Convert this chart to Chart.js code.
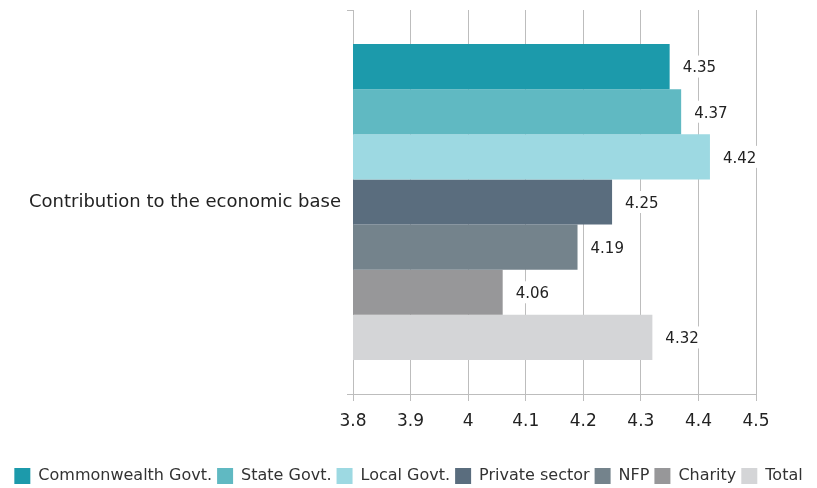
<!DOCTYPE html>
<html>
<head>
<meta charset="utf-8">
<script src="https://cdn.jsdelivr.net/npm/chart.js@4/dist/chart.umd.min.js"></script>
<style>
	html, body { margin: 0; padding: 0; background: #fff; }
	#wrap { width: 817px; height: 488px; }
</style>
</head>
<body>
<div id="wrap"><canvas id="chart" width="817" height="488"></canvas></div>
<script>
// categories and series
var categories = ['Contribution to the economic base'];
var seriesNames = ['Commonwealth Govt.', 'State Govt.', 'Local Govt.', 'Private sector', 'NFP', 'Charity', 'Total'];
var seriesValues = [4.35, 4.37, 4.42, 4.25, 4.19, 4.06, 4.32];
var seriesColors = ['#1c9aab', '#60b9c2', '#9dd9e2', '#5a6d7e', '#74838c', '#979799', '#d4d5d7'];
var xTicks = [3.8, 3.9, 4, 4.1, 4.2, 4.3, 4.4, 4.5];

var fontName = "'DejaVu Sans', sans-serif";

var datasets = seriesNames.map(function (name, i) {
	return {
		label: name,
		data: [seriesValues[i]],
		backgroundColor: seriesColors[i],
		borderWidth: 0,
		categoryPercentage: 0.823,
		barPercentage: 1.0
	};
});

// value labels at bar ends, white box behind
var valueLabels = {
	id: 'valueLabels',
	afterDatasetsDraw: function (chart) {
		var ctx = chart.ctx;
		ctx.save();
		ctx.font = '15px ' + fontName;
		ctx.textBaseline = 'middle';
		chart.data.datasets.forEach(function (ds, i) {
			var meta = chart.getDatasetMeta(i);
			meta.data.forEach(function (bar, j) {
				var txt = String(ds.data[j]);
				var w = ctx.measureText(txt).width;
				var x = bar.x + 13;
				ctx.fillStyle = '#fff';
				ctx.fillRect(x - 4, bar.y - 11, w + 8, 22);
				ctx.fillStyle = '#222';
				ctx.fillText(txt, x, bar.y + 2);
			});
		});
		ctx.restore();
	}
};

new Chart(document.getElementById('chart'), {
	type: 'bar',
	data: { labels: categories, datasets: datasets },
	options: {
		indexAxis: 'y',
		responsive: false,
		animation: false,
		layout: { padding: { top: 10, left: 0, right: 0, bottom: -6 } },
		plugins: {
			legend: {
				position: 'bottom',
				labels: {
					boxWidth: 16,
					boxHeight: 16,
					padding: 5,
					color: '#333',
					font: { size: 16, family: fontName }
				}
			},
			tooltip: { enabled: false }
		},
		scales: {
			x: {
				min: 3.8,
				max: 4.5,
				afterBuildTicks: function (scale) {
					scale.ticks = xTicks.map(function (v) { return { value: v }; });
				},
				afterFit: function (scale) {
					scale.height = 69;
					scale.paddingRight = 61;
				},
				grid: { color: '#bdbdbd', tickLength: 7, drawTicks: true },
				border: { color: '#bdbdbd' },
				ticks: {
					color: '#222',
					padding: 10,
					font: { size: 17, family: fontName },
					callback: function (v) { return String(Math.round(v * 10) / 10); }
				}
			},
			y: {
				afterFit: function (scale) {
					scale.width = 353;
					scale.paddingTop = 0;
					scale.paddingBottom = 0;
				},
				grid: { drawOnChartArea: false, color: '#bdbdbd', tickLength: 6, offset: true },
				border: { color: '#bdbdbd' },
				ticks: {
					color: '#222',
					padding: 6,
					font: { size: 18, family: fontName }
				}
			}
		}
	},
	plugins: [valueLabels]
});
</script>
</body>
</html>
